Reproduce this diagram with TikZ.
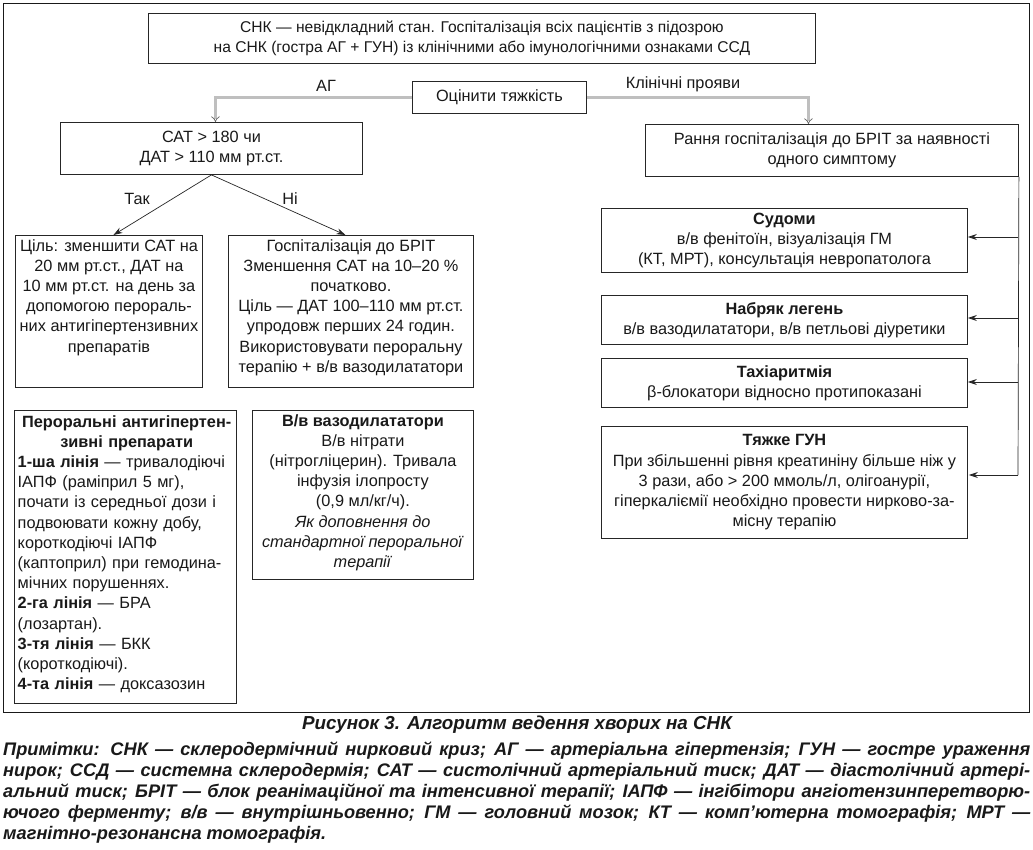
\documentclass[tikz,border=0pt]{standalone}
\usepackage{fontspec}
\setmainfont{Liberation Sans}
\usetikzlibrary{arrows.meta,calc}
\newcommand\mfs{\fontsize{16.3}{20.2}\selectfont}
\newcommand\tfs{\fontsize{15.6}{20.2}\selectfont}
\newcommand\nfs{\fontsize{18.2}{20.8}\selectfont\bfseries\itshape}
\newcommand\cfs{\fontsize{18.8}{21}\selectfont\bfseries\itshape}
\begin{document}
\begin{tikzpicture}[x=1pt,y=-1pt,
  box/.style={draw=black!85, line width=0.9pt, inner sep=0pt, font=\mfs, align=center, anchor=north west, text=black!90},
  txt/.style={inner sep=0pt, font=\mfs, align=center, text=black!90},
  arr/.style={draw=black!85, line width=0.7pt, -{Stealth[length=9pt,width=6pt]}},
  plain/.style={draw=black!85, line width=0.7pt},
  dbl/.style={draw=black!60, double=black!25, double distance=2.2pt, line width=0.7pt, -{Implies[]}},
  lbl/.style={inner sep=0pt, font=\mfs, text=black!90}]
\useasboundingbox (0,0) rectangle (1033,850);
\fill[white] (0,0) rectangle (1033,850);
\node[draw=black!90, line width=1.2pt, inner sep=0pt, minimum width=1026pt, minimum height=709pt, anchor=north west] (frame) at (3,3) {};

% top row
\node[box, font=\tfs, minimum width=667pt, minimum height=50pt] (top) at (148,13)
 {СНК — невідкладний стан. Госпіталізація всіх пацієнтів з підозрою\\на СНК (гостра АГ + ГУН) із клінічними або імунологічними ознаками ССД};
\node[box, minimum width=174pt, minimum height=32pt] (otsin) at (412,81) {Оцінити тяжкість};
\node[box, minimum width=302pt, minimum height=52pt] (sat) at (60,122) {САТ > 180 чи\\ДАТ > 110 мм рт.ст.};
\node[box, minimum width=373pt, minimum height=52pt] (rannya) at (645,124) {Рання госпіталізація до БРІТ за наявності\\одного симптому};

\draw[dbl] (otsin.west) -| ([xshift=4pt]sat.north);
\draw[dbl] (otsin.east) -| ([xshift=-23.5pt]rannya.north);
\node[lbl] (agl) at (326,86) {АГ};
\node[lbl] (klin) at (683,84) {Клінічні прояви};

% left branch
\node[box, minimum width=187pt, minimum height=152pt] (zil) at (15,235) {};
\node[txt, anchor=north] (zilt) at ([yshift=-4pt]zil.north)
 {Ціль: зменшити САТ на\\20 мм рт.ст., ДАТ на\\10 мм рт.ст. на день за\\допомогою перораль-\\них антигіпертензивних\\препаратів};
\node[box, minimum width=245pt, minimum height=152pt] (hosp) at (228,235) {};
\node[txt, anchor=north] (hospt) at ([yshift=-4pt]hosp.north)
 {Госпіталізація до БРІТ\\Зменшення САТ на 10–20 \%\\початково.\\Ціль — ДАТ 100–110 мм рт.ст.\\упродовж перших 24 годин.\\Використовувати пероральну\\терапію + в/в вазодилататори};
\draw[arr] (sat.south) -- ([xshift=4.5pt]zil.north);
\draw[arr] (sat.south) -- ([xshift=-5.5pt]hosp.north);
\node[lbl] (tak) at (137,199) {Так};
\node[lbl] (ni) at (290,199) {Ні};

\node[box, minimum width=222pt, minimum height=293pt] (pero) at (14,410) {};
\node[txt, anchor=north west, text width=218pt, align=left] (perot) at ([xshift=3.5pt,yshift=-5pt]pero.north west)
 {{\centering\bfseries Пероральні антигіпертен-\\зивні препарати\par}
 \textbf{1-ша лінія} — тривалодіючі\\ІАПФ (раміприл 5 мг),\\почати із середньої дози і\\подвоювати кожну добу,\\короткодіючі ІАПФ\\(каптоприл) при гемодина-\\мічних порушеннях.\\\textbf{2-га лінія} — БРА\\(лозартан).\\\textbf{3-тя лінія} — БКК\\(короткодіючі).\\\textbf{4-та лінія} — доксазозин};

\node[box, minimum width=221pt, minimum height=169pt] (vv) at (252,410) {};
\node[txt, anchor=north] (vvt) at ([yshift=-4pt]vv.north)
 {\textbf{В/в вазодилататори}\\В/в нітрати\\(нітрогліцерин). Тривала\\інфузія ілопросту\\(0,9 мл/кг/ч).\\\textit{Як доповнення до}\\\textit{стандартної пероральної}\\\textit{терапії}};

% right branch
\node[box, minimum width=366pt, minimum height=64pt] (sud) at (601,208)
 {\textbf{Судоми}\\в/в фенітоїн, візуалізація ГМ\\(КТ, МРТ), консультація невропатолога};
\node[box, minimum width=366pt, minimum height=49pt] (nab) at (601,295)
 {\textbf{Набряк легень}\\в/в вазодилататори, в/в петльові діуретики};
\node[box, minimum width=366pt, minimum height=49pt] (tah) at (601,358)
 {\textbf{Тахіаритмія}\\β-блокатори відносно протипоказані};
\node[box, minimum width=366pt, minimum height=112pt] (tgun) at (601,426)
 {\textbf{Тяжке ГУН}\\При збільшенні рівня креатиніну більше ніж у\\3 рази, або > 200 ммоль/л, олігоанурії,\\гіперкаліємії необхідно провести нирково-за-\\місну терапію};

\coordinate (j1) at (1018,237);
\coordinate (j2) at (1018,318);
\coordinate (j3) at (1018,382);
\coordinate (j4) at (1018,475);
\draw[plain] (rannya.south east) -- (j4);
\draw[arr] (j1) -- (j1 -| sud.east);
\draw[arr] (j2) -- (j2 -| nab.east);
\draw[arr] (j3) -- (j3 -| tah.east);
\draw[arr] (j4) -- ([xshift=1pt]j4 -| tgun.east);

% caption and notes
\node[inner sep=0pt, font=\cfs, text=black!90] (cap) at (517,725) {Рисунок 3. Алгоритм ведення хворих на СНК};
\node[inner sep=0pt, anchor=north west, text width=1027pt, align=justify, font=\nfs, text=black!90] (notes) at (3,742)
 {Примітки: СНК — склеродермічний нирковий криз; АГ — артеріальна гіпертензія; ГУН — гостре ураження\linebreak
 нирок; ССД — системна склеродермія; САТ — систолічний артеріальний тиск; ДАТ — діастолічний артері-\linebreak
 альний тиск; БРІТ — блок реанімаційної та інтенсивної терапії; ІАПФ — інгібітори ангіотензинперетворю-\linebreak
 ючого ферменту; в/в — внутрішньовенно; ГМ — головний мозок; КТ — комп’ютерна томографія; МРТ —\linebreak
 магнітно-резонансна томографія.};
\end{tikzpicture}
\end{document}
